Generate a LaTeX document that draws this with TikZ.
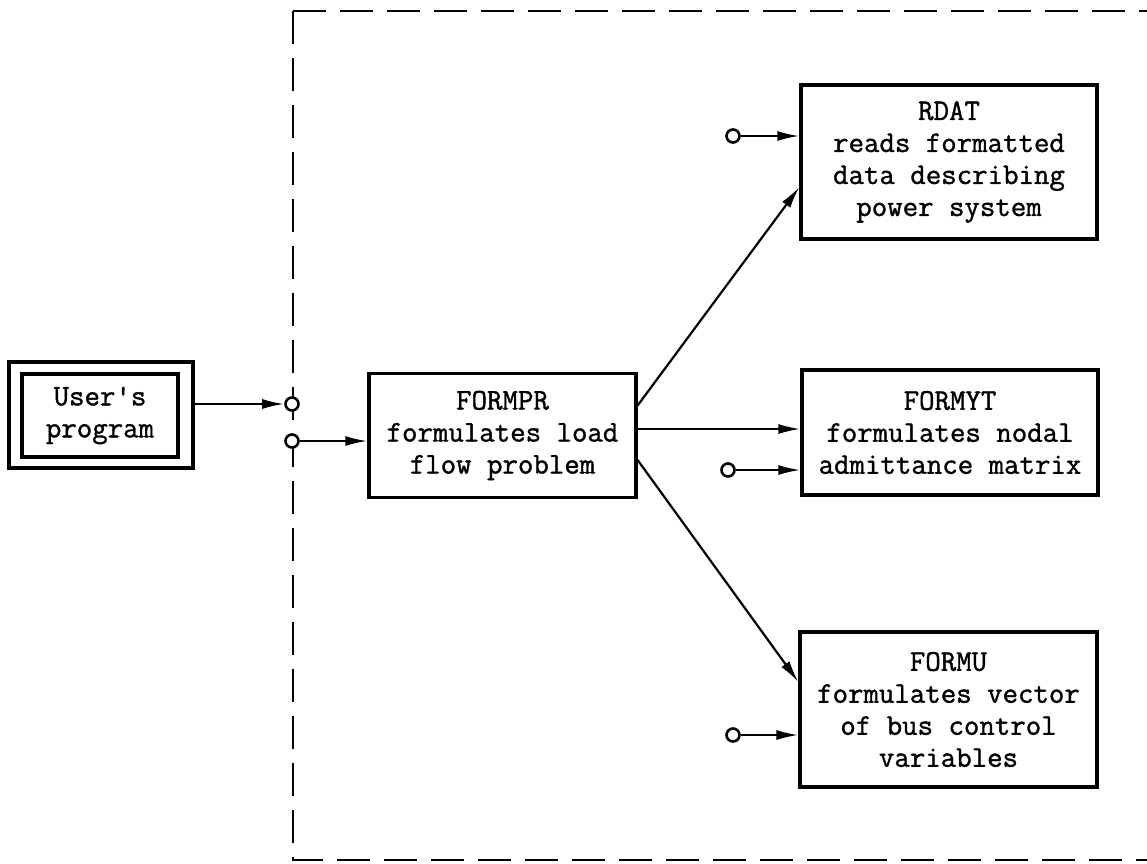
\documentclass[tikz,border=0pt]{standalone}
\usepackage{fontspec}
\newfontfamily\tfont{Latin Modern Mono}[FakeBold=1.2]
\usetikzlibrary{arrows.meta,calc}
\begin{document}
\begin{tikzpicture}[x=1pt,y=-1pt,
  txt/.style={font=\tfont\fontsize{30}{32}\selectfont, align=center},
  box/.style={draw, line width=3.2pt, inner sep=0pt, txt},
  arr/.style={line width=2.2pt, -{Latex[length=22pt,width=10pt]}},
  port/.style={circle, draw, line width=2.6pt, fill=white, minimum size=13pt, inner sep=0pt},
  frame/.style={line width=2.8pt, dash pattern=on 33pt off 14pt}]
\fill[white] (0,0) rectangle (1147,863);
\useasboundingbox (0,0) rectangle (1147,863);
% dashed frame
\draw[frame] (293,11) -- (1147,11);
\draw[frame] (293,11) -- (293,860) -- (1147,860);
% boxes
\node[box, minimum width=184pt, minimum height=106pt] (outer) at (101,415) {};
\node[box, minimum width=156pt, minimum height=83pt] (user) at (100,415.5) {User's\\program};
\node[box, minimum width=267pt, minimum height=124pt] (formpr) at (502.5,435.5) {FORMPR\\formulates load\\flow problem};
\node[box, minimum width=296pt, minimum height=154pt] (rdat) at (949,162) {RDAT\\reads formatted\\data describing\\power system};
\node[box, minimum width=296pt, minimum height=125pt] (formyt) at (950,432.5) {FORMYT\\formulates nodal\\admittance matrix};
\node[box, minimum width=297pt, minimum height=155pt] (formu) at (948.5,709.5) {FORMU\\formulates vector\\of bus control\\variables};
% ports
\node[port] (c1) at (292,404) {};
\node[port] (c2) at (292,441) {};
\node[port] (r1) at (733,136) {};
\node[port] (y1) at (728,470) {};
\node[port] (u1) at (733,735) {};
% connectors
\draw[arr] (c1 -| outer.east) -- (c1);
\draw[arr] (c2) -- (c2 -| formpr.west);
\coordinate (m) at ([yshift=6.5pt]formpr.east);
\draw[arr] (m) -- (m -| formyt.west);
\draw[arr] ([yshift=30pt]formpr.east) -- ([yshift=-25pt]rdat.west);
\draw[arr] ([yshift=-24.5pt]formpr.east) -- ([yshift=27.5pt]formu.west);
\draw[arr] (r1) -- (r1 -| rdat.west);
\draw[arr] (y1) -- (y1 -| formyt.west);
\draw[arr] (u1) -- (u1 -| formu.west);
\end{tikzpicture}
\end{document}
